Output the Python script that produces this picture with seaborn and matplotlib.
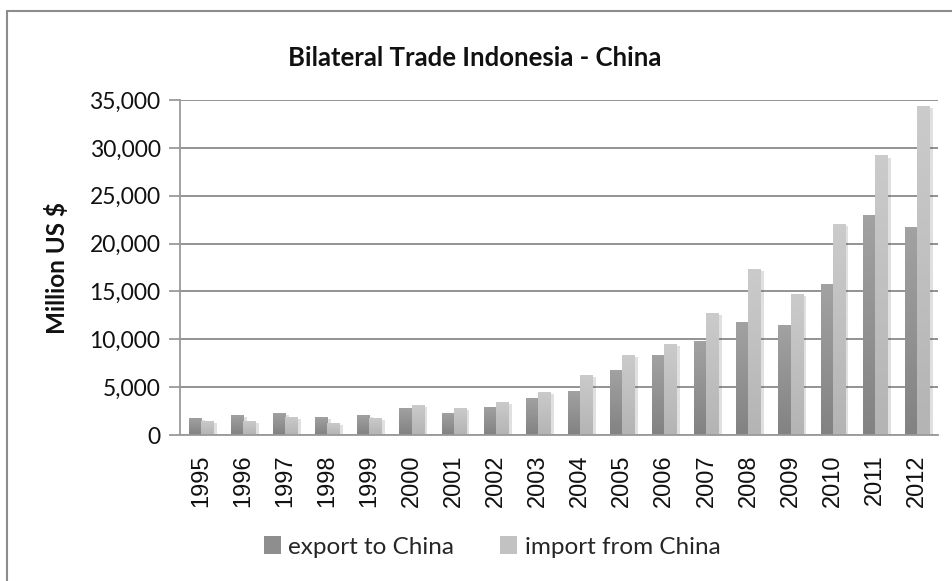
import numpy as np
import pandas as pd
import seaborn as sns
import matplotlib
matplotlib.use("Agg")
import matplotlib.pyplot as plt
from matplotlib import patheffects as pe
from matplotlib.patches import Rectangle, Patch
from matplotlib.ticker import FuncFormatter, MultipleLocator

# Indonesia - China bilateral trade, million US $
years = [str(y) for y in range(1995, 2013)]
export_to_china = [1780, 2100, 2300, 1890, 2100, 2830, 2310, 2940, 3880,
                   4640, 6740, 8390, 9780, 11770, 11530, 15760, 22960, 21700]
import_from_china = [1470, 1470, 1890, 1260, 1780, 3150, 2830, 3460, 4510,
                     6290, 8390, 9540, 12790, 17300, 14780, 22010, 29210, 34380]
series_names = ["export to China", "import from China"]
series_colors = ["#8e8e8e", "#c2c2c2"]

df = pd.DataFrame({
    "year": years * 2,
    "value": export_to_china + import_from_china,
    "series": [series_names[0]] * len(years) + [series_names[1]] * len(years),
})

sns.set_theme(style="white")
plt.rcParams["font.family"] = ["Lato", "DejaVu Sans"]

fig = plt.figure(figsize=(9.53, 5.81), dpi=100)
ax = fig.add_axes([180 / 953, 1 - 435 / 581, (938 - 180) / 953, (435 - 100) / 581])

sns.barplot(data=df, x="year", y="value", hue="series", palette=series_colors,
            width=0.58, saturation=1, legend=False, ax=ax, linewidth=0)

# soft drop shadow and vertical gradient on each bar
shade = {series_colors[0]: ("#a2a2a2", "#828282"),
         series_colors[1]: ("#cbcbcb", "#b4b4b4")}
for bar in list(ax.patches):
    bar.set_path_effects([pe.SimplePatchShadow(offset=(2.5, -1.5), alpha=0.18,
                                               shadow_rgbFace="#555555"),
                          pe.Normal()])
    fc = matplotlib.colors.to_hex(bar.get_facecolor())
    if fc not in shade:
        continue
    top, bot = shade[fc]
    x0, y0 = bar.get_x(), bar.get_y()
    w, h = bar.get_width(), bar.get_height()
    cmap = matplotlib.colors.LinearSegmentedColormap.from_list("g", [bot, top])
    grad = np.linspace(0, 1, 64).reshape(-1, 1)
    im = ax.imshow(grad, cmap=cmap, origin="lower", aspect="auto",
                   extent=(x0, x0 + w, y0, y0 + h), zorder=bar.get_zorder() + 0.1)
    im.set_clip_path(bar)

ax.set_xlim(-0.5, len(years) - 0.5)
ax.set_ylim(0, 35000)
ax.yaxis.set_major_locator(MultipleLocator(5000))
ax.yaxis.set_major_formatter(FuncFormatter(lambda v, p: f"{int(v):,}"))
ax.grid(axis="y", color="#8a8a8a", linewidth=1.3)
ax.set_axisbelow(True)

for side in ("top", "right"):
    ax.spines[side].set_visible(False)
for side in ("left", "bottom"):
    ax.spines[side].set_color("#9a9a9a")
    ax.spines[side].set_linewidth(1.3)

ax.tick_params(axis="y", length=8, width=1.3, color="#9a9a9a", labelsize=16.5,
               pad=6, labelcolor="#111111", left=True)
ax.tick_params(axis="x", length=0, pad=14)
for lab in ax.get_xticklabels():
    lab.set_rotation(90)
    lab.set_fontfamily(["Liberation Sans", "DejaVu Sans"])
    lab.set_fontsize(17)
    lab.set_color("#111111")

ax.set_xlabel("")
ax.set_ylabel("Million US $", fontsize=17.5, fontweight="bold", color="#111111")
ax.yaxis.set_label_coords(-0.146, 0.5)

fig.text(475 / 953, 1 - 58 / 581, "Bilateral Trade Indonesia - China",
         ha="center", va="center", fontsize=18.5, fontweight="bold",
         color="#111111")

handles = [Patch(facecolor=c, edgecolor="none") for c in series_colors]
fig.legend(handles, series_names, loc="center", bbox_to_anchor=(492 / 953, 1 - 547 / 581),
           ncol=2, frameon=False, fontsize=17.5, handlelength=0.7, handleheight=0.7,
           handletextpad=0.3, columnspacing=1.9)

# chart area border
fig.add_artist(Rectangle((7 / 953, -0.05), 1.2, 1 - 11 / 581 + 0.05,
                         transform=fig.transFigure, fill=False,
                         edgecolor="#8c8c8c", linewidth=1.5))

fig.savefig("out.png", dpi=100, facecolor="white")
